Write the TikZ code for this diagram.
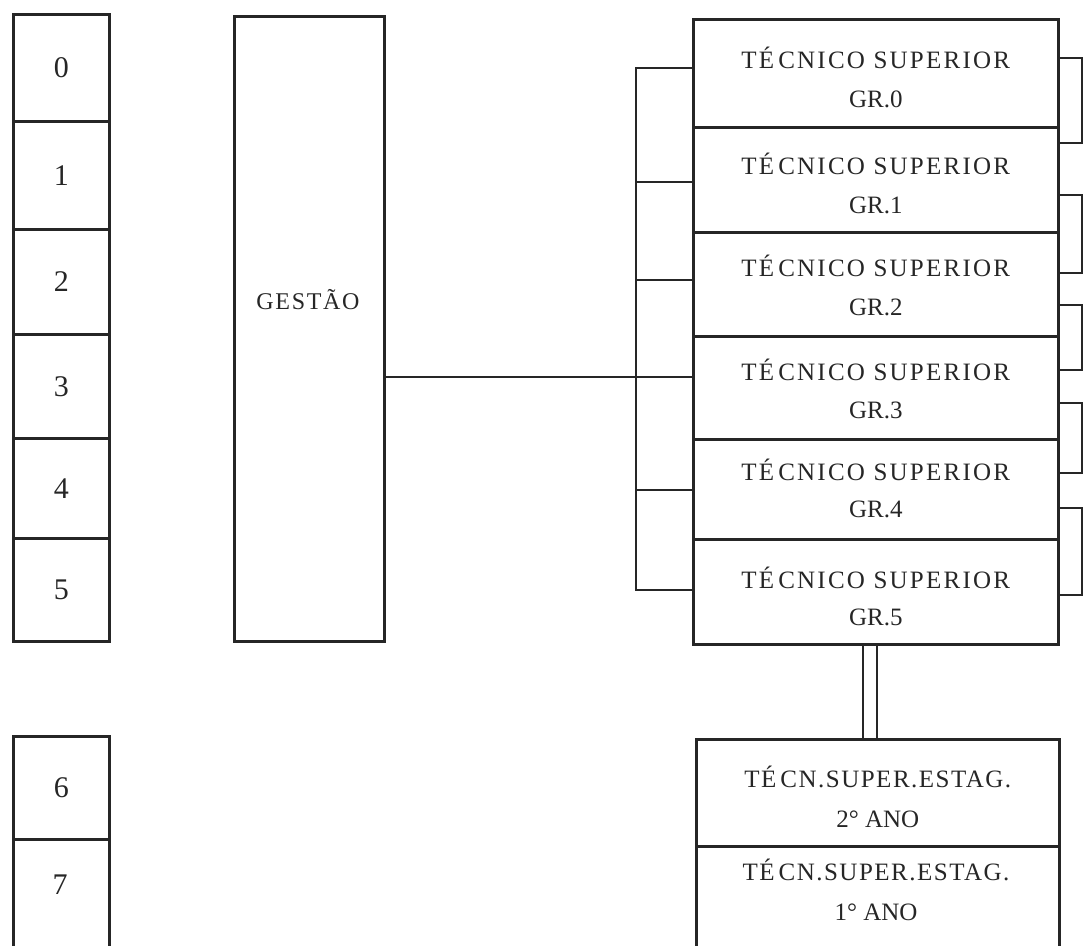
\documentclass[tikz,border=0pt]{standalone}
\usepackage{fontspec}
\setmainfont{Liberation Serif}
\newfontfamily\spacedfont[LetterSpace=9]{Liberation Serif}
\newfontfamily\estfont[LetterSpace=6]{Liberation Serif}
\newfontfamily\gestfont[LetterSpace=7]{Liberation Serif}
\definecolor{ink}{HTML}{262626}
\tikzset{
  box/.style={draw=ink, line width=2.6pt, anchor=north west, inner sep=0pt, text=ink},
  digit/.style={box, minimum width=96pt, font=\fontsize{30}{34}\selectfont},
  gbox/.style={box, minimum width=365pt},
  lbl/.style={text=ink, align=center, inner sep=0pt, font=\fontsize{25}{39}\selectfont},
  conn/.style={draw=ink, line width=2.6pt},
}
\newcommand{\tec}{{\spacedfont T\'E\hspace{4pt}CNICO SUPERIOR}}
\newcommand{\est}{{\estfont T\'E\hspace{4pt}CN.SUPER.ESTAG.}}
\begin{document}
\begin{tikzpicture}[x=1pt,y=-1pt]
\clip (0,0) rectangle (1084,945);
\fill[white] (0,0) rectangle (1084,945);
% left column
\node[digit, minimum height=107pt] (d0) at (12,13) {0};
\node[digit, minimum height=108pt] (d1) at (12,120) {1};
\node[digit, minimum height=105pt] (d2) at (12,228) {2};
\node[digit, minimum height=104pt] (d3) at (12,333) {3};
\node[digit, minimum height=100pt] (d4) at (12,437) {4};
\node[digit, minimum height=103pt] (d5) at (12,537) {5};
\node[digit, minimum height=103pt] (d6) at (12,735) {6};
\node[digit, minimum height=150pt] (d7) at (12,838) {};
\node[text=ink, font=\fontsize{30}{34}\selectfont] (d7t) at (60,885) {7};
% gestao
\node[box, minimum width=150pt, minimum height=625pt] (gestao) at (233,15) {};
\node[text=ink, font=\gestfont\fontsize{24}{28}\selectfont] (gestaot) at (308,300) {GEST\~AO};
% technical boxes
\node[gbox, minimum height=108pt, label={[lbl, yshift=-4pt]center:\tec\\GR.0}] (gr0) at (692,18) {};
\node[gbox, minimum height=105pt, label={[lbl, yshift=-4pt]center:\tec\\GR.1}] (gr1) at (692,126) {};
\node[gbox, minimum height=104pt, label={[lbl, yshift=-1pt]center:\tec\\GR.2}] (gr2) at (692,231) {};
\node[gbox, minimum height=103pt, label={[lbl, font=\fontsize{25}{38}\selectfont, yshift=-1pt]center:\tec\\GR.3}] (gr3) at (692,335) {};
\node[gbox, minimum height=100pt, label={[lbl, font=\fontsize{25}{37}\selectfont, yshift=1pt]center:\tec\\GR.4}] (gr4) at (692,438) {};
\node[gbox, minimum height=105pt, label={[lbl, font=\fontsize{25}{37}\selectfont, yshift=-5pt]center:\tec\\GR.5}] (gr5) at (692,538) {};
\node[gbox, minimum width=363pt, minimum height=107pt, label={[lbl, font=\fontsize{25}{40}\selectfont, yshift=-4pt]center:\est\\2\textdegree{} ANO}] (e2) at (695,738) {};
\node[gbox, minimum width=363pt, minimum height=150pt] (e1) at (695,845) {};
\node[lbl, font=\fontsize{25}{40}\selectfont] (e1t) at (876,890) {\est\\1\textdegree{} ANO};
% gestao connector
\coordinate (gy) at (0,377);
\draw[conn] (gestao.east |- gy) -- (gr3.west |- gy);
% left bracket
\coordinate (lb0) at (636,68);
\coordinate (lb1) at (636,182);
\coordinate (lb2) at (636,280);
\coordinate (lb3) at (636,377);
\coordinate (lb4) at (636,490);
\coordinate (lb5) at (636,590);
\draw[conn] (gr0.west |- lb0) -- (lb0) -- (lb5) -- (gr5.west |- lb5);
\draw[conn] (gr1.west |- lb1) -- (lb1);
\draw[conn] (gr2.west |- lb2) -- (lb2);
\draw[conn] (gr4.west |- lb4) -- (lb4);
% right brackets
\coordinate (ra0) at (1082,58);  \coordinate (rb0) at (1082,143);
\coordinate (ra1) at (1082,195); \coordinate (rb1) at (1082,273);
\coordinate (ra2) at (1082,305); \coordinate (rb2) at (1082,370);
\coordinate (ra3) at (1082,403); \coordinate (rb3) at (1082,473);
\coordinate (ra4) at (1082,508); \coordinate (rb4) at (1082,595);
\draw[conn] (gr0.east |- ra0) -- (ra0) -- (rb0) -- (gr1.east |- rb0);
\draw[conn] (gr1.east |- ra1) -- (ra1) -- (rb1) -- (gr2.east |- rb1);
\draw[conn] (gr2.east |- ra2) -- (ra2) -- (rb2) -- (gr3.east |- rb2);
\draw[conn] (gr3.east |- ra3) -- (ra3) -- (rb3) -- (gr4.east |- rb3);
\draw[conn] (gr4.east |- ra4) -- (ra4) -- (rb4) -- (gr5.east |- rb4);
% double line
\coordinate (dl) at (863,0);
\coordinate (dr) at (877,0);
\draw[conn] (gr5.south -| dl) -- (e2.north -| dl);
\draw[conn] (gr5.south -| dr) -- (e2.north -| dr);
\end{tikzpicture}
\end{document}
